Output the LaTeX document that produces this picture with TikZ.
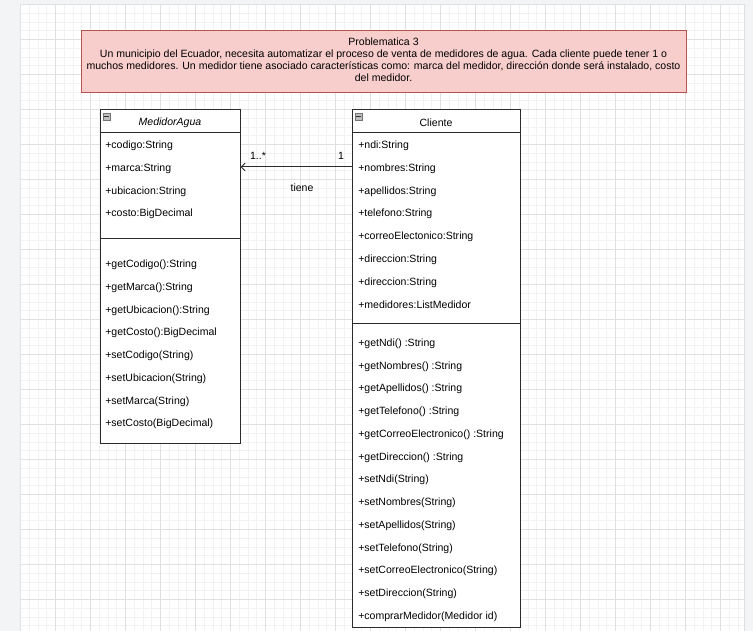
\documentclass[tikz,border=0pt]{standalone}
\usepackage{fontspec}
\setmainfont{Liberation Sans}
\usetikzlibrary{arrows.meta,fit}
\definecolor{outbg}{HTML}{F3F4F6}
\definecolor{gridminor}{HTML}{F2F2F2}
\definecolor{gridmajor}{HTML}{E0E0E0}
\definecolor{notefill}{HTML}{F8CECC}
\definecolor{notedraw}{HTML}{B85450}
\definecolor{linec}{HTML}{2B2B2B}
\tikzset{
  txt/.style={inner sep=0pt, font=\fontsize{7.9pt}{9.5pt}\selectfont, text=black, yshift=-1pt},
  member/.style={txt, anchor=west},
  classpart/.style={draw=linec, line width=0.75pt, fill=white, inner sep=0pt},
  note/.style={draw=notedraw, line width=0.75pt, fill=notefill, inner sep=0pt},
  icon/.style={draw=black!55, fill=black!25, line width=0.4pt, minimum size=5.25pt, inner sep=0pt,
    path picture={\draw[black!80, line width=0.6pt] ([xshift=1pt]path picture bounding box.west) -- ([xshift=-1pt]path picture bounding box.east);}},
  assoc/.style={draw=linec, line width=0.75pt, -{Straight Barb[length=3pt,width=6pt]}},
}
\begin{document}
\begin{tikzpicture}[x=0.75pt,y=-0.75pt]
\useasboundingbox (0,0) rectangle (753,631);
% background and page
\fill[outbg] (0,0) rectangle (753,631);
\fill[white] (20.5,4.5) rectangle (744,631);
\draw[black!12, line width=0.6pt] (20.5,631) -- (20.5,4.5) -- (744,4.5) -- (744,631);
\begin{scope}
\clip (20.5,4.5) rectangle (744,631);
\foreach \i in {0,...,83} {
  \draw[gridminor, line width=0.5pt] (20.5+\i*8.75,4.5) -- (20.5+\i*8.75,631);
}
\foreach \i in {0,...,72} {
  \draw[gridminor, line width=0.5pt] (20.5,4.5+\i*8.75) -- (744,4.5+\i*8.75);
}
\foreach \i in {0,...,20} {
  \draw[gridmajor, line width=0.5pt] (20.5+\i*35,4.5) -- (20.5+\i*35,631);
}
\foreach \i in {0,...,18} {
  \draw[gridmajor, line width=0.5pt] (20.5,4.5+\i*35) -- (744,4.5+\i*35);
}
\end{scope}

% problem statement
\node[note, fit={(81,31) (686,92.5)}] (prob) {};
\node[txt, align=center, font=\fontsize{7.9pt}{8.8pt}\selectfont] (probtext) at (383.5,58.5)
 {Problematica 3\\Un municipio del Ecuador, necesita automatizar el proceso de venta de medidores de agua. Cada cliente puede tener 1 o\\muchos medidores. Un medidor tiene asociado características como: marca del medidor, dirección donde será instalado, costo\\del medidor.};

% MedidorAgua
\node[classpart, fit={(100,110) (240,133)}] (medHead) {};
\node[classpart, fit={(100,133) (240,238)}] (medAttr) {};
\node[classpart, fit={(100,238) (240,443)}] (medOps) {};
\node[icon] (medIcon) at (106.5,116.5) {};
\node[txt, font=\fontsize{7.9pt}{9.5pt}\itshape] (medName) at (170,121) {MedidorAgua};
\node[member] (mA1) at (105,144) {+codigo:String};
\node[member] (mA2) at (105,167) {+marca:String};
\node[member] (mA3) at (105,190) {+ubicacion:String};
\node[member] (mA4) at (105,212) {+costo:BigDecimal};
\node[member] (mO1) at (105,263) {+getCodigo():String};
\node[member] (mO2) at (105,286) {+getMarca():String};
\node[member] (mO3) at (105,309) {+getUbicacion():String};
\node[member] (mO4) at (105,331) {+getCosto():BigDecimal};
\node[member] (mO5) at (105,354) {+setCodigo(String)};
\node[member] (mO6) at (105,377) {+setUbicacion(String)};
\node[member] (mO7) at (105,400) {+setMarca(String)};
\node[member] (mO8) at (105,422) {+setCosto(BigDecimal)};

% Cliente
\node[classpart, fit={(352,110) (520,133)}] (cliHead) {};
\node[classpart, fit={(352,133) (520,323)}] (cliAttr) {};
\node[classpart, fit={(352,323) (520,627)}] (cliOps) {};
\node[icon] (cliIcon) at (358.5,116.5) {};
\node[txt] (cliName) at (436,121) {Cliente};
\node[member] (cA1) at (358,144) {+ndi:String};
\node[member] (cA2) at (358,167) {+nombres:String};
\node[member] (cA3) at (358,190) {+apellidos:String};
\node[member] (cA4) at (358,212) {+telefono:String};
\node[member] (cA5) at (358,235) {+correoElectonico:String};
\node[member] (cA6) at (358,258) {+direccion:String};
\node[member] (cA7) at (358,281) {+direccion:String};
\node[member] (cA8) at (358,303) {+medidores:ListMedidor};
\node[member] (cO1) at (358,342) {+getNdi() :String};
\node[member] (cO2) at (358,365) {+getNombres() :String};
\node[member] (cO3) at (358,387) {+getApellidos() :String};
\node[member] (cO4) at (358,410) {+getTelefono() :String};
\node[member] (cO5) at (358,433) {+getCorreoElectronico() :String};
\node[member] (cO6) at (358,456) {+getDireccion() :String};
\node[member] (cO7) at (358,478) {+setNdi(String)};
\node[member] (cO8) at (358,501) {+setNombres(String)};
\node[member] (cO9) at (358,524) {+setApellidos(String)};
\node[member] (cO10) at (358,547) {+setTelefono(String)};
\node[member] (cO11) at (358,569) {+setCorreoElectronico(String)};
\node[member] (cO12) at (358,592) {+setDireccion(String)};
\node[member] (cO13) at (358,615) {+comprarMedidor(Medidor id)};

% association
\draw[assoc] (cliAttr.west |- 0,167) coordinate (assocStart) -- (medAttr.east |- assocStart);
\node[txt] (mult1) at (258,155) {1..*};
\node[txt] (mult2) at (341,155) {1};
\node[txt] (assocName) at (302,186) {tiene};
\end{tikzpicture}
\end{document}
